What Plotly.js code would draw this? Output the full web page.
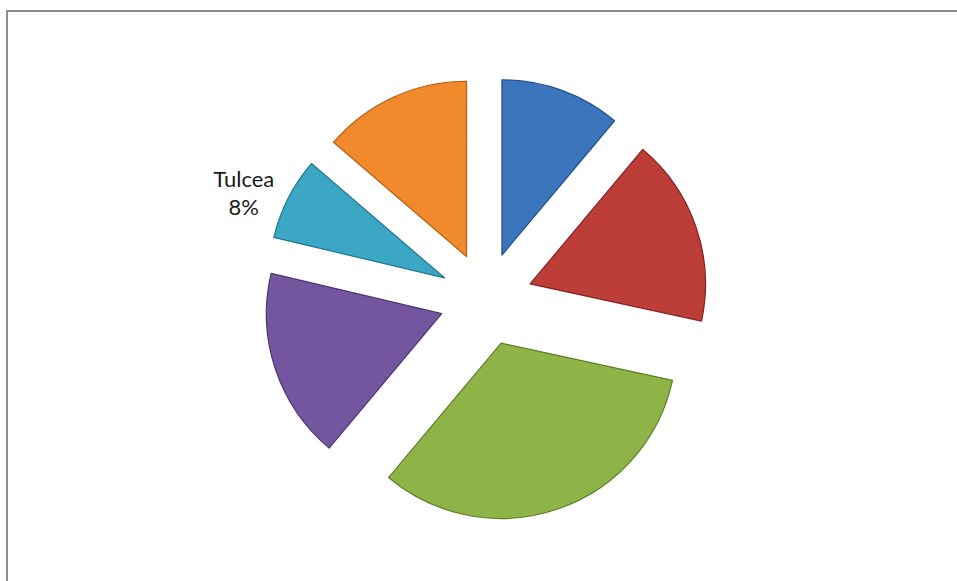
<!DOCTYPE html>
<html>
<head>
<meta charset="utf-8">
<script src="https://cdn.plot.ly/plotly-3.0.1.min.js"></script>
<style>
  html, body { margin: 0; padding: 0; background: #ffffff; overflow: hidden; }
  #chart { width: 957px; height: 581px; position: absolute; left: 0; top: 0; }
  #frame { position: absolute; left: 6px; top: 10px; width: 1000px; height: 700px;
           border-top: 2px solid #8e8e8e; border-left: 2px solid #8e8e8e; pointer-events: none; }
</style>
</head>
<body>
<div id="chart"></div>
<div id="frame"></div>
<script>
// Data (shares in %)
const counties = ["Brăila", "Buzău", "Constanța", "Galați", "Tulcea", "Vrancea"];
const shares = [11.1, 17.3, 32.7, 17.6, 7.6, 13.7];
const shownLabels = [false, false, false, false, true, false];

const fillColors = ["#3b76bd", "#bd3d39", "#8eb447", "#74569f", "#3ba7c4", "#f08a2c"];
const edgeColors = ["#24508a", "#85211e", "#5f7e2a", "#4b3573", "#207790", "#b45f14"];

const trace = {
  type: "pie",
  labels: counties,
  values: shares,
  sort: false,
  direction: "clockwise",
  rotation: 0,
  pull: counties.map(() => 0.266),
  marker: { colors: fillColors, line: { color: edgeColors, width: 1.2 } },
  texttemplate: "%{label}<br>%{percent:.0%}",
  textposition: shownLabels.map(s => s ? "outside" : "none"),
  outsidetextfont: { family: "Lato, 'Open Sans', sans-serif", size: 22, color: "#1a1a1a" },
  hoverinfo: "none",
  showlegend: false
};

const layout = {
  width: 957,
  height: 581,
  margin: { l: 264, r: 249, t: 77, b: 60 },
  paper_bgcolor: "#ffffff",
  plot_bgcolor: "#ffffff",
  showlegend: false
};

Plotly.newPlot("chart", [trace], layout, { displayModeBar: false, staticPlot: true });
</script>
</body>
</html>
